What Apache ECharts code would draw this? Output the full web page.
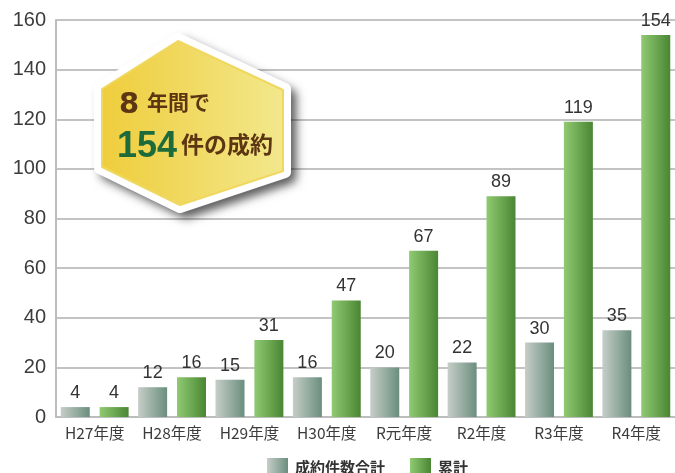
<!DOCTYPE html>
<html><head><meta charset="utf-8">
<script src="https://cdn.jsdelivr.net/npm/echarts@6/dist/echarts.min.js"></script>
<style>html,body{margin:0;padding:0;background:#fff}#c{width:675px;height:473px}</style>
</head><body><div id="c"></div>
<script>
const categories = ['H27年度','H28年度','H29年度','H30年度','R元年度','R2年度','R3年度','R4年度'];
const yearly = [4, 12, 15, 16, 20, 22, 30, 35];
const cumulative = [4, 16, 31, 47, 67, 89, 119, 154];
const seriesNames = ['成約件数合計', '累計'];
const yTicks = {min: 0, max: 160, interval: 20};

const grayGrad = new echarts.graphic.LinearGradient(0,0,1,0,[{offset:0,color:'#c6cec8'},{offset:1,color:'#6a8e7e'}]);
const greenGrad = new echarts.graphic.LinearGradient(0,0,1,0,[{offset:0,color:'#90ca72'},{offset:1,color:'#4a8633'}]);
const jp = '"Noto Sans CJK JP", "Liberation Sans", sans-serif';

const chart = echarts.init(document.getElementById('c'), null, {renderer:'canvas'});
chart.setOption({
  animation: false,
  grid: {left: 56, right: -2, top: 20, bottom: 56, containLabel: false},
  legend: {
    data: seriesNames, left: 262, top: 453, itemWidth: 21, itemHeight: 19, itemGap: 25,
    icon: 'rect',
    textStyle: {fontSize: 15, fontWeight: 'bold', color: '#333', fontFamily: jp, padding:[0,0,0,2]}
  },
  xAxis: {
    type: 'category', data: categories,
    axisLine: {lineStyle: {color: '#bdbdbd', width: 2}},
    axisTick: {show: false},
    axisLabel: {fontSize: 15.5, color: '#3c3c3c', margin: 8, fontFamily: jp}
  },
  yAxis: {
    type: 'value', min: yTicks.min, max: yTicks.max, interval: yTicks.interval,
    axisLine: {show: true, lineStyle: {color: '#bdbdbd', width: 2}},
    axisTick: {show: false},
    splitLine: {lineStyle: {color: '#c3c3c3', width: 2}},
    axisLabel: {fontSize: 20, color: '#3c3c3c', margin: 10, fontFamily: '"Liberation Sans", sans-serif'}
  },
  series: [
    {name: seriesNames[0], type: 'bar', data: yearly, barWidth: 29, barGap: '34%',
     itemStyle: {color: grayGrad},
     label: {show: true, position: 'top', distance: 5, fontSize: 18, color: '#333', fontFamily: '"Liberation Sans", sans-serif'}},
    {name: seriesNames[1], type: 'bar', data: cumulative, barWidth: 29,
     itemStyle: {color: greenGrad},
     label: {show: true, position: 'top', distance: 5, fontSize: 18, color: '#333', fontFamily: '"Liberation Sans", sans-serif'}}
  ],
  graphic: [
    {type: 'polygon', z: 100,
     shape: {points: [[178,39],[100,88],[100,168],[180,207],[285,172],[285,89]]},
     style: {fill: '#fff', stroke: '#fff', lineWidth: 12, lineJoin: 'round',
             shadowColor: 'rgba(0,0,0,0.5)', shadowBlur: 10, shadowOffsetX: 6, shadowOffsetY: 6}},
    {type: 'polygon', z: 101,
     shape: {points: [[178,41],[102,89],[102,167],[180,205],[283,171],[283,90]]},
     style: {fill: new echarts.graphic.LinearGradient(0,0,1,0,[{offset:0,color:'#efcd3c'},{offset:1,color:'#f2e88c'}]),
             stroke: '#f0d860', lineWidth: 2, lineJoin: 'round'}},
    {type: 'text', z: 102, left: 119, top: 91,
     style: {text: '8', font: 'bold 29px "DejaVu Sans", sans-serif', fill: '#5c3612'}},
    {type: 'text', z: 102, left: 147, top: 92,
     style: {text: '年間で', font: 'bold 21px "Noto Sans CJK JP", sans-serif', fill: '#5c3612'}},
    {type: 'text', z: 102, left: 117, top: 129,
     style: {text: '154', font: 'bold 36px "Liberation Sans", sans-serif', fill: '#1d6a3b'}},
    {type: 'text', z: 102, left: 181, top: 133,
     style: {text: '件の成約', font: 'bold 23px "Noto Sans CJK JP", sans-serif', fill: '#5c3612'}}
  ]
});
</script></body></html>
